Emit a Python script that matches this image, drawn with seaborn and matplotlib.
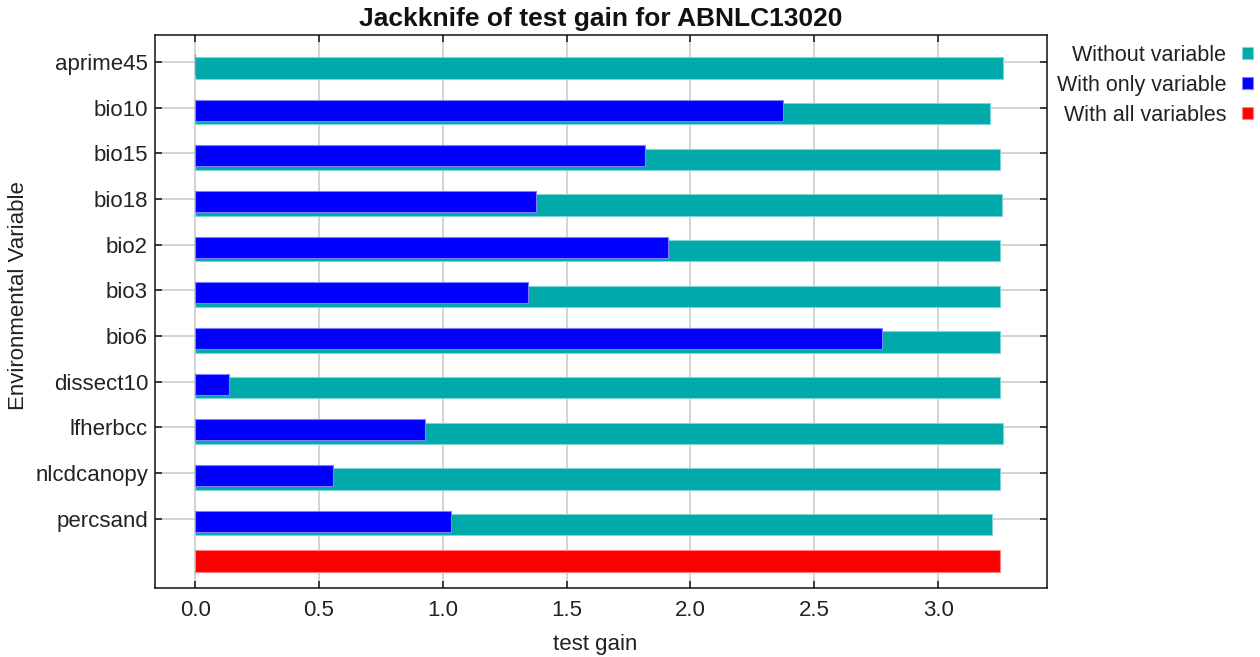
import matplotlib
matplotlib.use("Agg")
import matplotlib.pyplot as plt
from matplotlib.patches import Patch
import numpy as np
import pandas as pd
import seaborn as sns

# Jackknife results for ABNLC13020 (test gain)
variables = ["aprime45", "bio10", "bio15", "bio18", "bio2", "bio3",
             "bio6", "dissect10", "lfherbcc", "nlcdcanopy", "percsand"]
without_variable = [3.264, 3.209, 3.249, 3.257, 3.249, 3.249,
                    3.249, 3.249, 3.264, 3.249, 3.219]
with_only_variable = [0.0, 2.372, 1.815, 1.376, 1.911, 1.345,
                      2.774, 0.137, 0.929, 0.556, 1.032]
with_all_variables = [3.249]

legend_labels = ["Without variable", "With only variable", "With all variables"]
x_ticks = [0.0, 0.5, 1.0, 1.5, 2.0, 2.5, 3.0]

TEAL = "#00AAAA"
BLUE = "#0000FF"
RED = "#FF0000"

sns.set_theme(style="white")
plt.rcParams["font.family"] = ["Liberation Sans", "DejaVu Sans"]

rows = np.arange(len(variables))
df_without = pd.DataFrame({"gain": without_variable, "pos": rows + 0.13})
df_only = pd.DataFrame({"gain": with_only_variable, "pos": rows + 0.056})
df_all = pd.DataFrame({"gain": with_all_variables, "pos": [len(variables) - 0.07]})

fig = plt.figure(figsize=(12.6, 6.57), dpi=100)
ax = fig.add_axes([0.123, 0.1046, 0.708, 0.8426])

bar_kw = dict(orient="y", native_scale=True, errorbar=None, saturation=1,
              width=0.466, linewidth=0.8)
sns.barplot(data=df_without, x="gain", y="pos", color=TEAL,
            edgecolor="#7FD5D5", ax=ax, **bar_kw)
sns.barplot(data=df_only, x="gain", y="pos", color=BLUE,
            edgecolor="#7F7FFF", ax=ax, **bar_kw)
sns.barplot(data=df_all, x="gain", y="pos", color=RED,
            edgecolor="#FF8080", ax=ax, **bar_kw)

ax.set_xlim(-0.162, 3.44)
ax.set_ylim(11.525, -0.597)
ax.set_xticks(x_ticks)
ax.set_xticklabels([f"{t:.1f}" for t in x_ticks])
ax.set_yticks(rows)
ax.set_yticklabels(variables)

ax.set_axisbelow(True)
ax.grid(True, color="#C8C8C8", linewidth=1.1)
for s in ax.spines.values():
    s.set_color("#111111")
    s.set_linewidth(1.1)
ax.tick_params(axis="both", direction="in", length=5, width=1.2,
               color="#222222", labelsize=16, labelcolor="#222222",
               top=True, right=True, left=True, bottom=True)
ax.tick_params(axis="x", pad=8.5)
ax.tick_params(axis="y", pad=5)

ax.set_xlabel("test gain", fontsize=16, color="#222222")
ax.xaxis.set_label_coords(0.494, -0.083)
ax.set_ylabel("Environmental Variable", fontsize=16, color="#222222")
ax.yaxis.set_label_coords(-0.141, 0.528)
ax.set_title("Jackknife of test gain for ABNLC13020", fontsize=19,
             fontweight="bold", color="#111111", pad=6)

handles = [Patch(facecolor=c, edgecolor=e, linewidth=0.8)
           for c, e in [(TEAL, "#7FD5D5"), (BLUE, "#7F7FFF"), (RED, "#FF8080")]]
fig.legend(handles, legend_labels, loc="upper right",
           bbox_to_anchor=(0.9944, 0.932), frameon=False, markerfirst=False,
           fontsize=15.5, labelcolor="#222222", handlelength=0.5,
           handleheight=0.5, handletextpad=0.75, labelspacing=0.42,
           borderpad=0.0, borderaxespad=0.0)

fig.savefig("out.png", dpi=100)
